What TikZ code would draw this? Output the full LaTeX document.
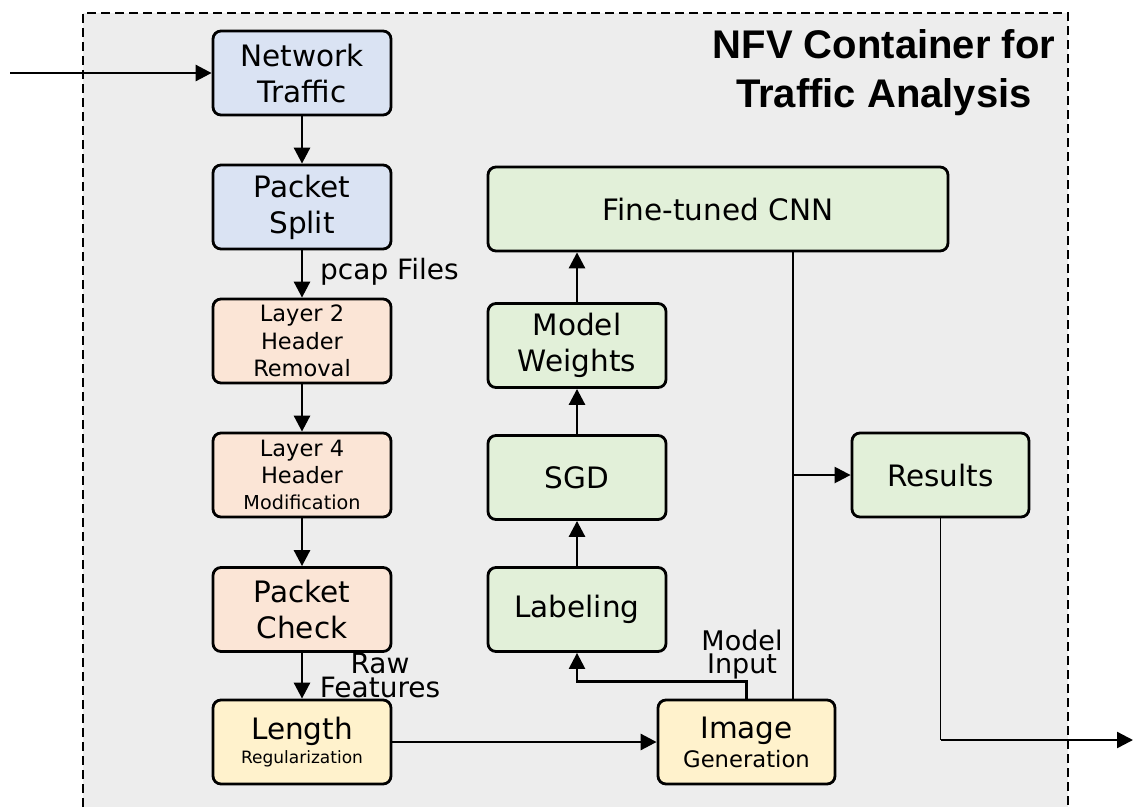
\documentclass[tikz,border=0pt]{standalone}
\usepackage{fontspec}
\setmainfont{DejaVu Sans}
\newfontfamily\titlefont{Liberation Sans}
\usetikzlibrary{arrows.meta}
\definecolor{bgc}{HTML}{EDEDED}
\definecolor{bluef}{HTML}{DAE3F3}
\definecolor{orangef}{HTML}{FBE5D6}
\definecolor{yellowf}{HTML}{FFF2CC}
\definecolor{greenf}{HTML}{E2F0D9}
\begin{document}
\begin{tikzpicture}[x=1pt,y=-1pt,
  box/.style={draw=black,line width=2.8pt,rounded corners=8pt,minimum width=178pt,minimum height=84pt,inner sep=0pt,align=center,font=\fontsize{29.5}{36}\selectfont},
  bluebox/.style={box,fill=bluef},
  orangebox/.style={box,fill=orangef},
  yellowbox/.style={box,fill=yellowf},
  greenbox/.style={box,fill=greenf},
  arr/.style={line width=2.8pt,-{Triangle[length=16pt,width=16pt]}},
  thinline/.style={line width=1.4pt},
  lbl/.style={inner sep=0pt,align=center}]
\useasboundingbox (0,0) rectangle (1133,807);
% container
\fill[bgc] (83,13) rectangle (1068,807);
\draw[line width=2.5pt,dash pattern=on 9pt off 5pt] (83,807) -- (83,13) -- (1068,13) -- (1068,807);
\node[lbl,anchor=north,font=\titlefont\bfseries\fontsize{40}{49}\selectfont] (title) at (884,29.8) {NFV Container for\\Traffic Analysis};
% left column
\node[bluebox] (nt) at (302,73) {Network\\Traffic};
\node[bluebox] (ps) at (302,207) {Packet\\Split};
\node[orangebox,font=\fontsize{22.5}{27.3}\selectfont] (l2) at (302,341) {Layer 2\\Header\\Removal};
\node[orangebox,font=\fontsize{22.5}{26.5}\selectfont] (l4) at (302,475) {Layer 4\\Header\\{\fontsize{19.2}{25}\selectfont Modification}};
\node[orangebox] (pc) at (302,609.5) {Packet\\Check};
\node[yellowbox,font=\fontsize{29.5}{24}\selectfont] (len) at (302,742) {Length\\{\fontsize{17}{24}\selectfont Regularization}};
% middle column
\node[greenbox] (lab) at (577,609.5) {Labeling};
\node[greenbox] (sgd) at (577,477.5) {SGD};
\node[greenbox] (mw) at (577,345.5) {Model\\Weights};
\node[greenbox,minimum width=460pt] (cnn) at (718,209) {Fine-tuned CNN};
\node[greenbox,minimum width=177pt] (res) at (940.5,475) {Results};
\node[yellowbox,minimum width=177pt,font=\fontsize{29.5}{29}\selectfont] (img) at (746.5,742) {Image\\{\fontsize{22.7}{29}\selectfont Generation}};
% labels
\node[lbl,anchor=base west,font=\fontsize{28}{34}\selectfont] (pcap) at (320,279) {pcap Files};
\node[lbl,anchor=north,font=\fontsize{28}{24}\selectfont] (raw) at (380,652.6) {Raw\\Features};
\node[lbl,anchor=north,font=\fontsize{27}{23}\selectfont] (mi) at (742,629.5) {Model\\Input};
% coordinates
\coordinate (in) at (10,73);
\coordinate (tx) at (793,0);
\coordinate (out) at (1133,740);
% connectors
\draw[arr] (in) -- (nt.west);
\draw[arr] (nt.south) -- (ps.north);
\draw[arr] (ps.south) -- (l2.north);
\draw[arr] (l2.south) -- (l4.north);
\draw[arr] (l4.south) -- (pc.north);
\draw[arr] (pc.south) -- (len.north);
\draw[arr] (len.east) -- (img.west);
\draw[arr,line width=2.4pt] (img.north) -- ++(0,-17) -| (lab.south);
\draw[arr] (lab.north) -- (sgd.south);
\draw[arr] (sgd.north) -- (mw.south);
\draw[arr] (mw.north) -- (mw.north |- cnn.south);
\draw[thinline] (cnn.south -| tx) -- (img.north -| tx);
\draw[arr,line width=2.4pt] (res.west -| tx) -- (res.west);
\draw[thinline] (res.south) -- (res.south |- out);
\draw[arr,line width=2.4pt] (res.south |- out) -- (out);
\end{tikzpicture}
\end{document}
